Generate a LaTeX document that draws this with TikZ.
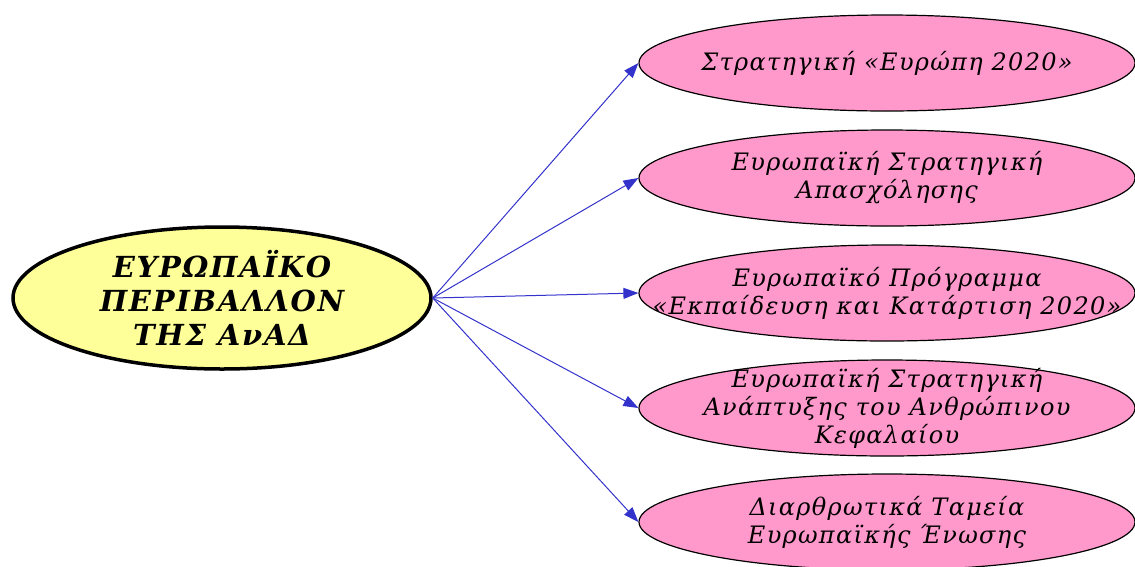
\documentclass[tikz,border=0pt]{standalone}
\usepackage{fontspec}
\setmainfont{DejaVu Serif}
\newfontfamily\leaffont[LetterSpace=5.5]{DejaVu Serif}
\newfontfamily\hubfont[LetterSpace=6]{DejaVu Serif}
\usetikzlibrary{shapes.geometric,arrows.meta}
\definecolor{hubfill}{HTML}{FFFF99}
\definecolor{leaffill}{HTML}{FF99CC}
\definecolor{arrowblue}{HTML}{3333CC}
\tikzset{
  hub/.style={ellipse, draw=black, line width=3.5pt, fill=hubfill, minimum width=418pt, minimum height=142pt, inner sep=0pt},
  hubtext/.style={align=center, inner sep=0pt, font=\hubfont\fontsize{29}{34}\selectfont\bfseries\itshape},
  leaf/.style={ellipse, draw=black, line width=1.2pt, fill=leaffill, minimum width=496pt, minimum height=96pt, inner sep=0pt},
  leaftext/.style={align=center, inner sep=0pt, font=\leaffont\fontsize{24}{28}\selectfont\itshape},
  link/.style={draw=arrowblue, line width=1pt, -{Triangle[length=15pt,width=11pt]}}
}
\begin{document}
\begin{tikzpicture}[x=1pt,y=-1pt]
\useasboundingbox (0,0) rectangle (1135,566);
\clip (0,0) rectangle (1135,566);
\node[hub] (h) at (222,298) {};
\node[hubtext] (ht) at (h.center) {ΕΥΡΩΠΑΪΚΟ\\ΠΕΡΙΒΑΛΛΟΝ\\ΤΗΣ ΑνΑΔ};
\node[leaf] (a) at (887,63) {};
\node[leaftext] (at) at (a.center) {Στρατηγική «Ευρώπη 2020»};
\node[leaf] (b) at (887,178) {};
\node[leaftext] (bt) at (b.center) {Ευρωπαϊκή Στρατηγική\\Απασχόλησης};
\node[leaf] (c) at (887,293) {};
\node[leaftext] (ct) at (c.center) {Ευρωπαϊκό Πρόγραμμα\\«Εκπαίδευση και Κατάρτιση 2020»};
\node[leaf] (d) at (887,408) {};
\node[leaftext] (dt) at (d.center) {Ευρωπαϊκή Στρατηγική\\Ανάπτυξης του Ανθρώπινου\\Κεφαλαίου};
\node[leaf] (e) at (887,522) {};
\node[leaftext] (et) at (e.center) {Διαρθρωτικά Ταμεία\\Ευρωπαϊκής Ένωσης};
\foreach \t in {a,b,c,d,e}{\draw[link] (h.east) -- (\t.west);}
\end{tikzpicture}
\end{document}
